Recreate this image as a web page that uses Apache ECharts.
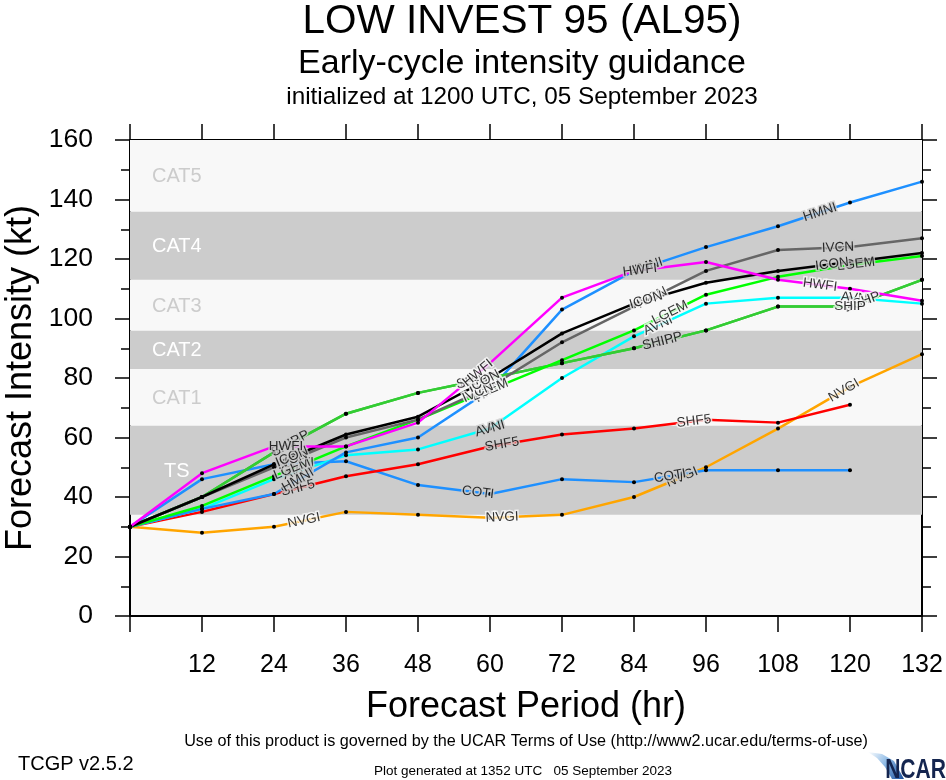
<!DOCTYPE html>
<html><head><meta charset="utf-8">
<script src="https://cdn.jsdelivr.net/npm/echarts@6/dist/echarts.min.js"></script>
<style>html,body{margin:0;padding:0;background:#fff}#c{width:946px;height:780px}</style>
</head><body><div id="c"></div>
<script>
// ---- data ----
const hours = [0, 12, 24, 36, 48, 60, 72, 84, 96, 108, 120, 132];
const HWFI = [30, 48, 57, 57, 65, 85, 107, 116, 119, 113, 110, 106];
const HMNI = [30, 36, 41, 55, 60, 76, 103, 116, 124, 131, 139, 146];
const COTI = [30, 46, 51, 52, 44, 41, 46, 45, 49, 49, 49, null];
const AVNI = [30, 36, 46, 54, 56, 63, 80, 94, 105, 107, 107, 105];
const SHF5 = [30, 35, 41, 47, 51, 57, 61, 63, 66, 65, 71, null];
const NVGI = [30, 28, 30, 35, 34, 33, 34, 40, 50, 63, 77, 88];
const IVCN = [30, 40, 50, 60, 66, 77, 92, 104, 116, 123, 124, 127];
const ICON = [30, 40, 51, 61, 67, 80, 95, 105, 112, 116, 119, 122];
const LGEM = [30, 37, 47, 57, 66, 76, 86, 96, 108, 114, 118, 121];
const DSHP = [30, 40, 55, 68, 75, 80, 85, 90, 96, 104, 104, 113];
const SHIP = [30, 40, 55, 68, 75, 80, 85, 90, 96, 104, 104, 113];

const bandNames = ['TS', 'CAT1', 'CAT2', 'CAT3', 'CAT4', 'CAT5'];
const bandLow = [34, 64, 83, 96, 113, 136];
const bandHigh = [64, 83, 96, 113, 136, 160];
const bandShaded = [true, false, true, false, true, false];

const xTicks = [0, 12, 24, 36, 48, 60, 72, 84, 96, 108, 120, 132];

// ---- styling / layout ----
const FONT = '"Liberation Sans", Arial, Helvetica, sans-serif';
const SHADE = '#cccccc', LIGHT = '#f8f8f8';
const models = [
  { name: 'NVGI', data: NVGI, color: '#ffa500', lab: [29, 62, 92, 119] },
  { name: 'COTI', data: COTI, color: '#1e90ff', lab: [28, 58, 90] },
  { name: 'SHF5', data: SHF5, color: '#ff0000', lab: [28, 62, 94] },
  { name: 'AVNI', data: AVNI, color: '#00ffff', lab: [28, 60, 88, 121] },
  { name: 'HMNI', data: HMNI, color: '#1e90ff', lab: [28, 60, 86, 115] },
  { name: 'DSHP', data: DSHP, color: '#33cc33', lab: [27, 58, 89, 122] },
  { name: 'SHIP', data: SHIP, color: '#33cc33', lab: [26, 57, 88, 120] },
  { name: 'LGEM', data: LGEM, color: '#00ff00', lab: [27, 60, 90, 121] },
  { name: 'IVCN', data: IVCN, color: '#666666', lab: [27, 58, 87, 118] },
  { name: 'ICON', data: ICON, color: '#000000', lab: [27, 59, 86, 117] },
  { name: 'HWFI', data: HWFI, color: '#ff00ff', lab: [26, 58, 85, 115] }
];

function pairs(arr) {
  const out = [];
  hours.forEach((h, i) => { if (arr[i] != null) out.push([h, arr[i]]); });
  return out;
}
function bandColorAt(v) {
  for (let i = 0; i < bandLow.length; i++) {
    if (v >= bandLow[i] && v < bandHigh[i]) return bandShaded[i] ? SHADE : LIGHT;
  }
  return LIGHT;
}

const chart = echarts.init(document.getElementById('c'), null, { renderer: 'canvas' });

const axisLineStyle = { color: '#000', width: 2 };
const tickStyle = { color: '#000', width: 1.5 };

const lineSeries = models.map(m => ({
  type: 'line', name: m.name, data: pairs(m.data),
  xAxisIndex: 0, yAxisIndex: 0,
  symbol: 'circle', symbolSize: 4, showSymbol: true,
  itemStyle: { color: '#000' },
  lineStyle: { color: m.color, width: 2.5 },
  z: 3, emphasis: { disabled: true }, animation: false
}));

const bandSeries = {
  type: 'custom', name: 'bands', xAxisIndex: 0, yAxisIndex: 0, z: 1, silent: true,
  data: bandLow.map((lo, i) => [lo, bandHigh[i], i]),
  renderItem: function (params, api) {
    const lo = api.value(0), hi = api.value(1), idx = api.value(2);
    const p1 = api.coord([0, hi]);
    const p2 = api.coord([132, lo]);
    const shaded = bandShaded[idx];
    const tx = api.coord([7.8, 0])[0];
    return {
      type: 'group',
      children: [
        { type: 'rect', shape: { x: p1[0], y: p1[1], width: p2[0] - p1[0], height: p2[1] - p1[1] },
          style: { fill: shaded ? SHADE : LIGHT } },
        { type: 'text', style: { x: tx, y: (p1[1] + p2[1]) / 2 + 1, text: bandNames[idx],
          fill: shaded ? '#ffffff' : '#cccccc', font: '20px ' + FONT, align: 'center', verticalAlign: 'middle' } }
      ]
    };
  },
  animation: false
};

const texts = [
  { t: 'LOW INVEST 95 (AL95)', x: 522, y: 1, s: 40.5 },
  { t: 'Early-cycle intensity guidance', x: 522, y: 47, s: 34 },
  { t: 'initialized at 1200 UTC, 05 September 2023', x: 522, y: 85, s: 24.3 },
  { t: 'Forecast Period (hr)', x: 526, y: 689, s: 36 },
  { t: 'Use of this product is governed by the UCAR Terms of Use (http://www2.ucar.edu/terms-of-use)', x: 526, y: 734, s: 16.2 },
  { t: 'Plot generated at 1352 UTC   05 September 2023', x: 523, y: 764, s: 13.5 }
];

const graphics = texts.map(o => ({
  type: 'text', x: o.x, y: o.y,
  style: { text: o.t, fill: '#000', font: o.s + 'px ' + FONT, align: 'center', verticalAlign: 'top' }
}));
graphics.push({
  type: 'text', x: 18, y: 754,
  style: { text: 'TCGP v2.5.2', fill: '#000', font: '20px ' + FONT, align: 'left', verticalAlign: 'top' }
});
graphics.push({
  type: 'text', x: 3, y: 378, rotation: Math.PI / 2,
  style: { text: 'Forecast Intensity (kt)', fill: '#000', font: '36px ' + FONT, align: 'center', verticalAlign: 'top' }
});
// NCAR logo
graphics.push({
  type: 'polygon',
  shape: { points: [[868, 752], [882, 754], [894, 761], [904, 779], [892, 779], [885, 767], [877, 758]] },
  style: { fill: new echarts.graphic.LinearGradient(0, 0, 1, 1, [
    { offset: 0, color: '#ffffff' }, { offset: 0.45, color: '#8fbbe6' }, { offset: 1, color: '#1a4f9c' }]) }
});
graphics.push({
  type: 'text', x: 946, y: 757, scaleX: 0.78,
  style: { text: 'NCAR', fill: '#14254f', font: 'bold 27px ' + FONT, align: 'right', verticalAlign: 'top' }
});

const option = {
  animation: false,
  backgroundColor: '#ffffff',
  grid: { left: 130, right: 24, top: 140, bottom: 164, show: true, backgroundColor: LIGHT, borderWidth: 0 },
  xAxis: [
    { type: 'value', min: 0, max: 132, interval: 12, position: 'bottom',
      axisLine: { show: true, onZero: false, lineStyle: axisLineStyle },
      axisTick: { show: true, inside: false, length: 16, lineStyle: tickStyle },
      axisLabel: { formatter: v => (xTicks.indexOf(v) > 0 ? String(v) : ''), fontSize: 25, color: '#000', margin: 37, fontFamily: FONT },
      splitLine: { show: false } },
    { type: 'value', min: 0, max: 132, interval: 12, position: 'top',
      axisLine: { show: true, onZero: false, lineStyle: axisLineStyle },
      axisTick: { show: true, inside: false, length: 16, lineStyle: tickStyle },
      axisLabel: { show: false }, splitLine: { show: false } }
  ],
  yAxis: [
    { type: 'value', min: 0, max: 160, interval: 20, position: 'left',
      axisLine: { show: true, onZero: false, lineStyle: axisLineStyle },
      axisTick: { show: true, inside: false, length: 15, lineStyle: tickStyle },
      minorTick: { show: true, splitNumber: 2, length: 9, lineStyle: tickStyle },
      axisLabel: { fontSize: 26.5, color: '#000', margin: 37, fontFamily: FONT },
      splitLine: { show: false } },
    { type: 'value', min: 0, max: 160, interval: 20, position: 'right',
      axisLine: { show: true, onZero: false, lineStyle: axisLineStyle },
      axisTick: { show: true, inside: false, length: 15, lineStyle: tickStyle },
      minorTick: { show: true, splitNumber: 2, length: 9, lineStyle: tickStyle },
      axisLabel: { show: false }, splitLine: { show: false } }
  ],
  graphic: graphics,
  series: [bandSeries].concat(lineSeries)
};
chart.setOption(option);

// labels along lines (positions derived from the data via the axes)
const labelData = [];
models.forEach(m => {
  const pts = pairs(m.data);
  m.lab.forEach(h => {
    for (let i = 0; i < pts.length - 1; i++) {
      const a = pts[i], b = pts[i + 1];
      if (h >= a[0] && h <= b[0]) {
        const f = (h - a[0]) / (b[0] - a[0]);
        const v = a[1] + f * (b[1] - a[1]);
        const pa = chart.convertToPixel({ gridIndex: 0 }, a);
        const pb = chart.convertToPixel({ gridIndex: 0 }, b);
        const ang = -Math.atan2(pb[1] - pa[1], pb[0] - pa[0]) * 180 / Math.PI;
        labelData.push({ name: m.name, value: [h, v],
          label: { rotate: ang, textBorderColor: bandColorAt(v), textBorderWidth: 3 } });
        break;
      }
    }
  });
});

chart.setOption({
  series: [bandSeries].concat(lineSeries).concat([{
    type: 'scatter', name: 'labels', xAxisIndex: 0, yAxisIndex: 0, z: 6,
    symbolSize: 0, data: labelData, silent: true,
    label: { show: true, position: 'inside', formatter: p => p.name, fontSize: 13.5, color: '#000', fontFamily: FONT },
    emphasis: { disabled: true }, animation: false
  }])
});
</script>
</body></html>
